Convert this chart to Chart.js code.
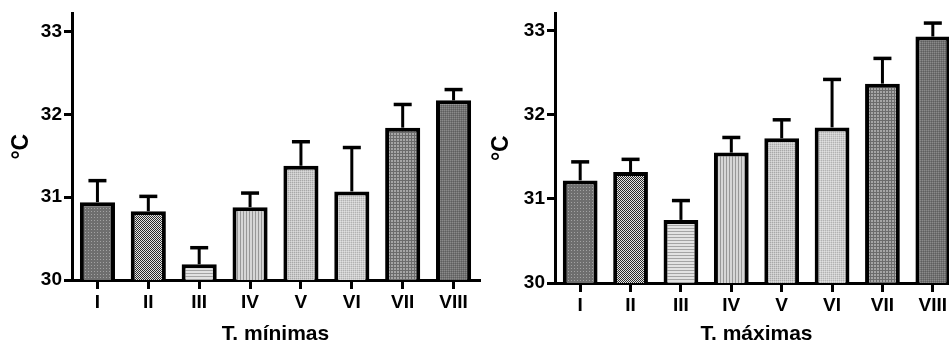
<!DOCTYPE html>
<html>
<head>
<meta charset="utf-8">
<script src="https://cdn.jsdelivr.net/npm/chart.js@4.4.0/dist/chart.umd.min.js"></script>
<style>
  html, body { margin: 0; padding: 0; background: #fff; overflow: hidden; }
  #wrap { position: relative; width: 949px; height: 346px; overflow: hidden; }
  canvas { position: absolute; top: 0; }
</style>
</head>
<body>
<div id="wrap">
  <canvas id="chart-min" width="482" height="346" style="left:0"></canvas>
  <canvas id="chart-max" width="480" height="346" style="left:480px"></canvas>
</div>
<script>
const categories = ['I', 'II', 'III', 'IV', 'V', 'VI', 'VII', 'VIII'];
const minMeans = [30.94, 30.83, 30.19, 30.88, 31.38, 31.07, 31.84, 32.17];
const minErrors = [0.26, 0.18, 0.20, 0.17, 0.29, 0.53, 0.28, 0.13];
const maxMeans = [31.22, 31.32, 30.75, 31.55, 31.72, 31.85, 32.37, 32.93];
const maxErrors = [0.22, 0.15, 0.23, 0.18, 0.22, 0.57, 0.30, 0.16];
const yTicks = [30, 31, 32, 33];

// small fill textures, one per bar
function makePattern(w, h, draw) {
    const c = document.createElement('canvas');
    c.width = w; c.height = h;
    const g = c.getContext('2d');
    draw(g);
    return c.getContext('2d').createPattern(c, 'repeat');
}
function px(g, color, x, y, w, h) { g.fillStyle = color; g.fillRect(x, y, w || 1, h || 1); }

const patterns = [
    makePattern(3, 3, g => { px(g, '#6e6e6e', 0, 0, 3, 3); px(g, '#a2a2a2', 1, 1); }),
    makePattern(2, 2, g => { px(g, '#e6e6e6', 0, 0, 2, 2); px(g, '#2a2a2a', 0, 0); px(g, '#2a2a2a', 1, 1); }),
    makePattern(1, 3, g => { px(g, '#e2e2e2', 0, 0, 1, 3); px(g, '#a4a4a4', 0, 0); }),
    makePattern(3, 1, g => { px(g, '#d6d6d6', 0, 0, 3, 1); px(g, '#979797', 0, 0); }),
    makePattern(2, 2, g => { px(g, '#c8c8c8', 0, 0, 2, 2); px(g, '#a8a8a8', 0, 0); px(g, '#dadada', 1, 1); }),
    makePattern(2, 2, g => { px(g, '#cdcdcd', 0, 0, 2, 2); px(g, '#b2b2b2', 1, 0); px(g, '#e0e0e0', 0, 1); }),
    makePattern(3, 3, g => { px(g, '#a6a6a6', 0, 0, 3, 3); px(g, '#6c6c6c', 0, 0, 3, 1); px(g, '#6c6c6c', 0, 0, 1, 3); }),
    makePattern(2, 2, g => { px(g, '#727272', 0, 0, 2, 2); px(g, '#8a8a8a', 0, 0); px(g, '#5e5e5e', 1, 1); })
];

const errorBars = {
    id: 'errorBars',
    afterDatasetsDraw(chart) {
        const ctx = chart.ctx;
        const y = chart.scales.y;
        const ds = chart.data.datasets[0];
        const meta = chart.getDatasetMeta(0);
        ctx.save();
        ctx.strokeStyle = '#000';
        ctx.lineCap = 'butt';
        meta.data.forEach((bar, i) => {
            const top = y.getPixelForValue(ds.data[i] + ds.errors[i]);
            ctx.lineWidth = 3;
            ctx.beginPath();
            ctx.moveTo(bar.x, bar.y);
            ctx.lineTo(bar.x, top);
            ctx.stroke();
            ctx.lineWidth = 3.5;
            ctx.beginPath();
            ctx.moveTo(bar.x - 9, top);
            ctx.lineTo(bar.x + 9, top);
            ctx.stroke();
        });
        ctx.restore();
    }
};

function buildChart(canvasId, means, errors, title, opts) {
    const font = 'Liberation Sans, Arial, sans-serif';
    return new Chart(document.getElementById(canvasId), {
        type: 'bar',
        data: {
            labels: categories,
            datasets: [{
                data: means,
                errors: errors,
                backgroundColor: patterns,
                borderColor: '#000',
                borderWidth: 4,
                borderSkipped: false,
                barPercentage: 0.69,
                categoryPercentage: 1
            }]
        },
        options: {
            responsive: false,
            animation: false,
            events: [],
            layout: { padding: { top: opts.top, right: opts.right, left: 0, bottom: 0 } },
            plugins: { legend: { display: false }, tooltip: { enabled: false } },
            scales: {
                x: {
                    offset: true,
                    grid: { display: true, drawOnChartArea: false, offset: false, color: '#000', lineWidth: 3, tickLength: 9 },
                    border: { display: true, color: '#000', width: 3 },
                    ticks: { color: '#000', padding: 2, font: { family: font, size: 19, weight: 'bold' } },
                    title: { display: true, text: title, color: '#000', padding: { top: 0, bottom: 1 }, font: { family: font, size: 21, weight: 'bold', lineHeight: 1 } },
                    afterFit(scale) { scale.height = opts.xHeight; }
                },
                y: {
                    min: 30,
                    max: opts.max,
                    afterBuildTicks(scale) { scale.ticks = yTicks.map(v => ({ value: v })); },
                    grid: { display: true, drawOnChartArea: false, color: '#000', lineWidth: 3, tickLength: 8 },
                    border: { display: true, color: '#000', width: 3 },
                    ticks: { color: '#000', padding: 2, font: { family: font, size: 19, weight: 'bold' } },
                    title: { display: true, text: '°C', color: '#000', padding: { top: 8, bottom: 0 }, font: { family: font, size: 23, weight: 'bold' } },
                    afterFit(scale) { scale.width = opts.yWidth; }
                }
            }
        },
        plugins: [errorBars]
    });
}

buildChart('chart-min', minMeans, minErrors, 'T. mínimas', { top: 10, right: 3, max: 33.22, xHeight: 66, yWidth: 72 });
buildChart('chart-max', maxMeans, maxErrors, 'T. máximas', { top: 13, right: 2, max: 33.205, xHeight: 63, yWidth: 75 });
</script>
</body>
</html>
